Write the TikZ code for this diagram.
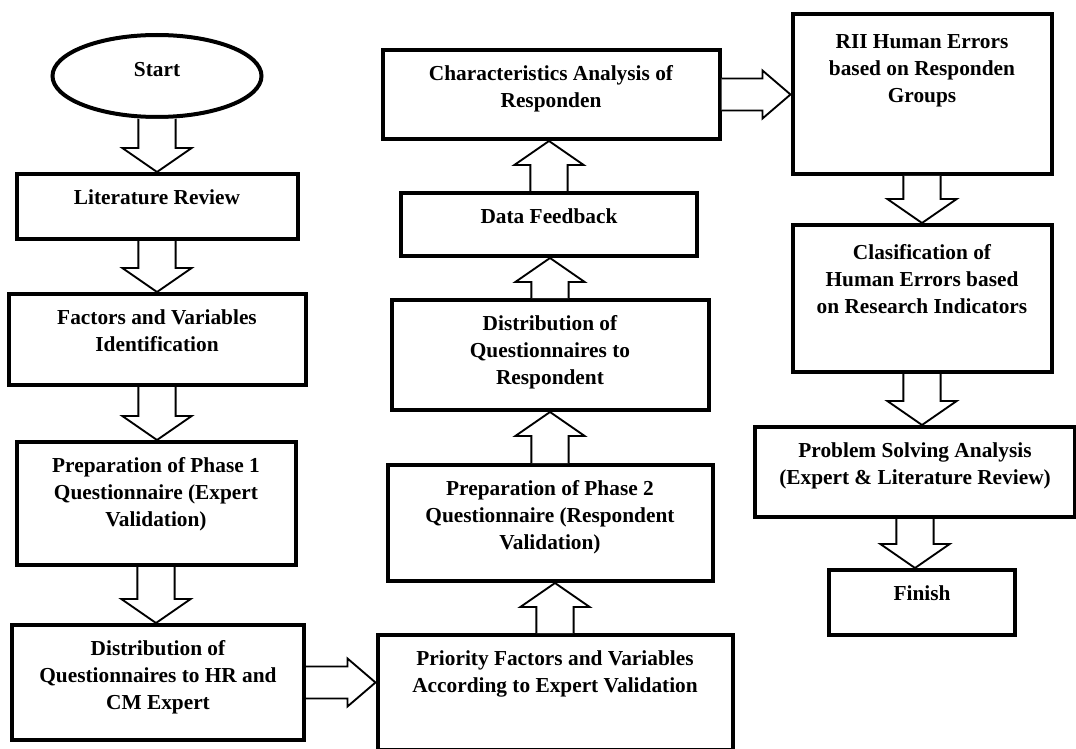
\documentclass[tikz,border=0pt]{standalone}
\usepackage{fontspec}
\setmainfont{Liberation Serif}
\usetikzlibrary{shapes.geometric,calc}

\newcommand{\flowdown}[2]{%
  \draw[blockarrow] let \p1=(#1.south), \p2=(#2.north) in
    (\x1-14pt,\y1) -- (\x1-14pt,\y2+18pt) -- (\x1-26pt,\y2+18pt) -- (\x1,\y2)
    -- (\x1+26pt,\y2+18pt) -- (\x1+14pt,\y2+18pt) -- (\x1+14pt,\y1);}
\newcommand{\flowup}[2]{%
  \draw[blockarrow] let \p1=(#1.north), \p2=(#2.south) in
    (\x1-14pt,\y1) -- (\x1-14pt,\y2-18pt) -- (\x1-26pt,\y2-18pt) -- (\x1,\y2)
    -- (\x1+26pt,\y2-18pt) -- (\x1+14pt,\y2-18pt) -- (\x1+14pt,\y1);}
\newcommand{\flowright}[2]{%
  \draw[blockarrow] let \p1=(#1.east), \p2=(#2.west) in
    (\x1,\y1+12pt) -- (\x2-21pt,\y1+12pt) -- (\x2-21pt,\y1+18pt) -- (\x2,\y1)
    -- (\x2-21pt,\y1-18pt) -- (\x2-21pt,\y1-12pt) -- (\x1,\y1-12pt);}

\begin{document}
\begin{tikzpicture}[
    x=0.75pt, y=-0.75pt,
    every node/.style={font=\fontsize{16}{20.2}\selectfont\bfseries},
    stepbox/.style={draw, rectangle, line width=3pt, anchor=north, inner sep=0pt,
        align=flush center, text height=23pt},
    startnode/.style={draw, ellipse, line width=3pt, minimum width=156.75pt,
        minimum height=61.5pt, text height=12pt, text depth=11pt},
    blockarrow/.style={draw, line width=1.4pt, fill=white}
]

\useasboundingbox (0,0) rectangle (1076,749);

\node[startnode] (start) at (157,76) {Start};
\node[stepbox, text width=210.75pt, text depth=25.75pt] (litrev) at (157,172) {Literature Review};
\node[stepbox, text width=222.75pt, text depth=45.25pt] (factors) at (157,292) {Factors and Variables\\ Identification};
\node[stepbox, text width=209.25pt, text depth=69.25pt] (prep1) at (156,440) {Preparation of Phase 1\\ Questionnaire (Expert\\ Validation)};
\node[stepbox, text width=219pt, text depth=63.25pt] (dist1) at (158,623) {Distribution of\\ Questionnaires to HR and\\ CM Expert};

\node[stepbox, text width=266.25pt, text depth=63.25pt] (priority) at (555,633) {Priority Factors and Variables\\ According to Expert Validation};
\node[stepbox, text width=243.75pt, text depth=64pt] (prep2) at (550,463) {Preparation of Phase 2\\ Questionnaire (Respondent\\ Validation)};
\node[stepbox, text width=237.75pt, text depth=59.5pt] (dist2) at (550,298) {Distribution of\\ Questionnaires to\\ Respondent};
\node[stepbox, text width=222pt, text depth=24.25pt] (feedback) at (549,191) {Data Feedback};
\node[stepbox, text width=252.75pt, text depth=43.75pt] (charact) at (551,48) {Characteristics Analysis of\\ Responden};

\node[stepbox, text width=194.25pt, text height=26pt, text depth=94pt] (rii) at (922,12) {RII Human Errors\\ based on Responden\\ Groups};
\node[stepbox, text width=194.25pt, text height=26pt, text depth=84.25pt] (clasif) at (922,223) {Clasification of\\ Human Errors based\\ on Research Indicators};
\node[stepbox, text width=240pt, text depth=44.5pt] (problem) at (915,425) {Problem Solving Analysis\\ (Expert \& Literature Review)};
\node[stepbox, text width=139.5pt, text depth=25.75pt] (finish) at (922,568) {Finish};

\flowdown{start}{litrev}
\flowdown{litrev}{factors}
\flowdown{factors}{prep1}
\flowdown{prep1}{dist1}
\flowright{dist1}{priority}
\flowup{priority}{prep2}
\flowup{prep2}{dist2}
\flowup{dist2}{feedback}
\flowup{feedback}{charact}
\flowright{charact}{rii}
\flowdown{rii}{clasif}
\flowdown{clasif}{problem}
\flowdown{problem}{finish}

\end{tikzpicture}
\end{document}
